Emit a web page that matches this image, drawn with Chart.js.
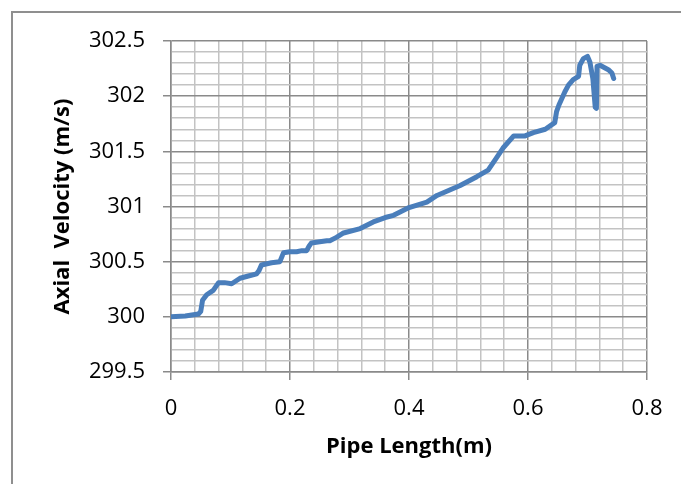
<!DOCTYPE html>
<html>
<head>
<meta charset="utf-8">
<script src="https://cdn.jsdelivr.net/npm/chart.js@4/dist/chart.umd.min.js"></script>
<style>
  html, body { margin: 0; padding: 0; background: #fff; }
  #frame { position: absolute; left: 0; top: 0; width: 681px; height: 484px; overflow: hidden; }
  #border { position: absolute; left: 11px; top: 11px; width: 720px; height: 520px; border: 2px solid #8f8f8f; }
  #graphe { position: absolute; left: 0; top: 0; }
</style>
</head>
<body>
<div id="frame">
  <div id="border"></div>
  <canvas id="graphe" width="681" height="484"></canvas>
</div>
<script>
// Donnees
const pipeLength = [0, 0.024, 0.046, 0.05, 0.053, 0.06, 0.071, 0.08, 0.09, 0.102, 0.116, 0.13, 0.144, 0.148,
  0.152, 0.169, 0.183, 0.189, 0.2, 0.211, 0.22, 0.228, 0.232, 0.236, 0.25, 0.262, 0.267, 0.278, 0.29,
  0.318, 0.34, 0.36, 0.374, 0.385, 0.4, 0.43, 0.447, 0.486, 0.514, 0.533, 0.547, 0.558, 0.576, 0.595,
  0.609, 0.629, 0.645, 0.648, 0.652, 0.662, 0.668, 0.676, 0.685, 0.687, 0.693, 0.7, 0.704, 0.709,
  0.713, 0.715, 0.716, 0.721, 0.735, 0.741, 0.744];
const axialVelocity = [300.0, 300.007, 300.025, 300.05, 300.15, 300.2, 300.24, 300.31, 300.31, 300.3, 300.35, 300.37, 300.39, 300.42,
  300.47, 300.49, 300.5, 300.58, 300.59, 300.59, 300.6, 300.6, 300.64, 300.67, 300.68, 300.69, 300.69, 300.72, 300.76,
  300.8, 300.86, 300.9, 300.92, 300.95, 300.99, 301.04, 301.1, 301.19, 301.27, 301.33, 301.44, 301.53, 301.64, 301.64,
  301.67, 301.7, 301.76, 301.86, 301.92, 302.04, 302.1, 302.15, 302.18, 302.28, 302.34, 302.36, 302.31, 302.16,
  301.9, 301.89, 302.27, 302.28, 302.24, 302.21, 302.16];

const xTickLabels = ["0", "0.2", "0.4", "0.6", "0.8"];
const yTickLabels = ["299.5", "300", "300.5", "301", "301.5", "302", "302.5"];

const points = pipeLength.map((x, i) => ({ x: x, y: axialVelocity[i] }));

// trouve le libelle d'une graduation principale, sinon chaine vide
function libelle(v, labels) {
  const l = labels.find(t => Math.abs(parseFloat(t) - v) < 1e-6);
  return l === undefined ? "" : l;
}
function majeurX(v) { return libelle(v, xTickLabels) !== ""; }
function majeurY(v) { return libelle(v, yTickLabels) !== ""; }

const MAJ = "#8a8a8a", MIN = "#c3c3c3";
const tickFont = { family: "'Open Sans', sans-serif", size: 22 };
const titleFont = { family: "'Open Sans', sans-serif", size: 22, weight: "bold" };

new Chart(document.getElementById("graphe").getContext("2d"), {
  type: "scatter",
  data: {
    datasets: [{
      data: points,
      showLine: true,
      borderColor: "#4a7ebb",
      borderWidth: 5,
      pointRadius: 0,
      tension: 0,
      borderJoinStyle: "round",
      borderCapStyle: "round"
    }]
  },
  options: {
    responsive: false,
    animation: false,
    layout: { padding: { left: 0, top: 41, right: 34, bottom: 0 } },
    plugins: { legend: { display: false }, tooltip: { enabled: false } },
    scales: {
      x: {
        type: "linear",
        min: 0,
        max: 0.8,
        afterFit: s => { s.height = 112; },
        afterBuildTicks: s => {
          s.ticks = [];
          for (let i = 0; i <= 20; i++) s.ticks.push({ value: i * 0.04 });
        },
        ticks: {
          autoSkip: false,
          maxRotation: 0,
          padding: 16,
          color: "#000",
          font: tickFont,
          callback: v => libelle(v, xTickLabels)
        },
        grid: {
          lineWidth: 1.5,
          tickLength: 8,
          color: c => majeurX(c.tick.value) ? MAJ : MIN,
          tickColor: c => majeurX(c.tick.value) ? MAJ : "rgba(0,0,0,0)"
        },
        border: { color: MAJ, width: 1.5 },
        title: {
          display: true,
          text: "Pipe Length(m)",
          color: "#000",
          font: titleFont,
          padding: { top: 0, bottom: 24 }
        }
      },
      y: {
        type: "linear",
        min: 299.5,
        max: 302.5,
        afterFit: s => { s.width = 171; },
        afterBuildTicks: s => {
          s.ticks = [];
          for (let i = 0; i <= 30; i++) s.ticks.push({ value: 299.5 + i * 0.1 });
        },
        ticks: {
          autoSkip: false,
          padding: 18,
          color: "#000",
          font: tickFont,
          callback: v => libelle(v, yTickLabels)
        },
        grid: {
          lineWidth: 1.5,
          tickLength: 8,
          color: c => majeurY(c.tick.value) ? MAJ : MIN,
          tickColor: c => majeurY(c.tick.value) ? MAJ : "rgba(0,0,0,0)"
        },
        border: { color: MAJ, width: 1.5 },
        title: {
          display: true,
          text: "Axial  Velocity (m/s)",
          color: "#000",
          font: titleFont,
          padding: { top: 50, bottom: 0 }
        }
      }
    }
  }
});
</script>
</body>
</html>
